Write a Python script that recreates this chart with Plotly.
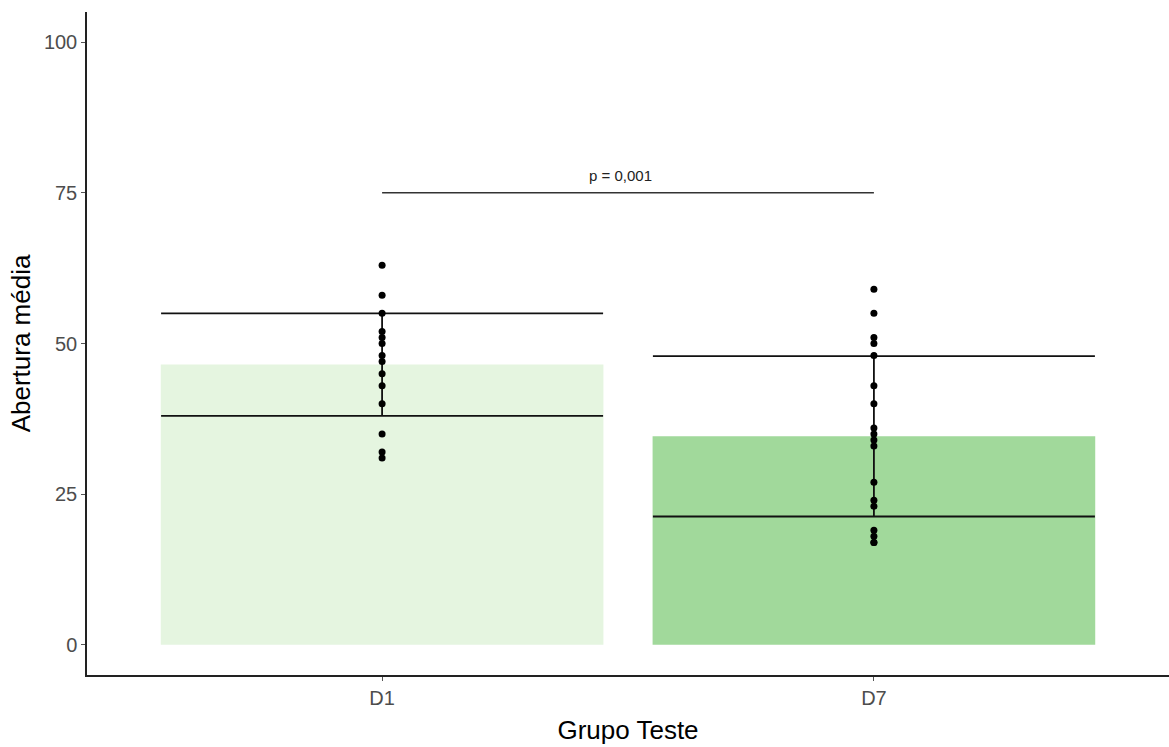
import plotly.graph_objects as go

groups = ["D1", "D7"]
means = [46.5, 34.6]
sds = [8.5, 13.3]
bar_colors = ["#E5F5E0", "#A1D99B"]

d1_points = [63, 58, 55, 52, 51, 50, 48, 47, 45, 43, 40, 35, 32, 31]
d7_points = [59, 55, 51, 50, 48, 43, 40, 36, 35, 34, 33, 27, 24, 23, 19, 18, 17, 17]

p_label = "p = 0,001"
p_y = 75
y_ticks = [0, 25, 50, 75, 100]

font_family = "Liberation Sans, Arial, sans-serif"

fig = go.Figure()

fig.add_trace(go.Bar(
    x=groups, y=means, width=0.9,
    marker=dict(color=bar_colors, line=dict(width=0)),
    showlegend=False, hoverinfo="skip",
))

# error bars (mean ± sd) with wide whiskers
fig.add_trace(go.Scatter(
    x=groups, y=means, mode="markers",
    marker=dict(size=0.1, color="rgba(0,0,0,0)"),
    error_y=dict(type="data", array=sds, symmetric=True, color="#111111",
                 thickness=1.8, width=221),
    showlegend=False, hoverinfo="skip",
))

# points
px_ = ["D1"] * len(d1_points) + ["D7"] * len(d7_points)
py_ = d1_points + d7_points
fig.add_trace(go.Scatter(
    x=px_, y=py_, mode="markers",
    marker=dict(size=7, color="black"),
    showlegend=False,
))

# significance bracket
fig.add_trace(go.Scatter(
    x=groups, y=[p_y, p_y], mode="lines",
    line=dict(color="#333333", width=1.5),
    showlegend=False, hoverinfo="skip",
))
fig.add_annotation(
    x=0.5, xref="x", y=p_y, yref="y", text=p_label, showarrow=False,
    yshift=17, xshift=-8, font=dict(size=15, color="#222222", family=font_family),
)

fig.update_layout(
    width=1169, height=747,
    margin=dict(l=87, r=0, t=12, b=72),
    paper_bgcolor="white", plot_bgcolor="white",
    font=dict(family=font_family),
    xaxis=dict(
        type="category", range=[-0.6, 1.6],
        showline=True, linecolor="#222222", linewidth=1.5,
        ticks="outside", ticklen=4, tickcolor="#555555",
        tickfont=dict(size=20, color="#4D4D4D"),
        showgrid=False, zeroline=False,
        title=dict(text="Grupo Teste", font=dict(size=26, color="black"), standoff=13),
    ),
    yaxis=dict(
        range=[-5, 105], tickvals=y_ticks,
        showline=True, linecolor="#222222", linewidth=1.5,
        ticks="outside", ticklen=4, tickcolor="#555555",
        tickfont=dict(size=20, color="#4D4D4D"),
        showgrid=False, zeroline=False,
        title=dict(text="Abertura média", font=dict(size=26, color="black"), standoff=6),
    ),
)

fig.write_html("out.html")
